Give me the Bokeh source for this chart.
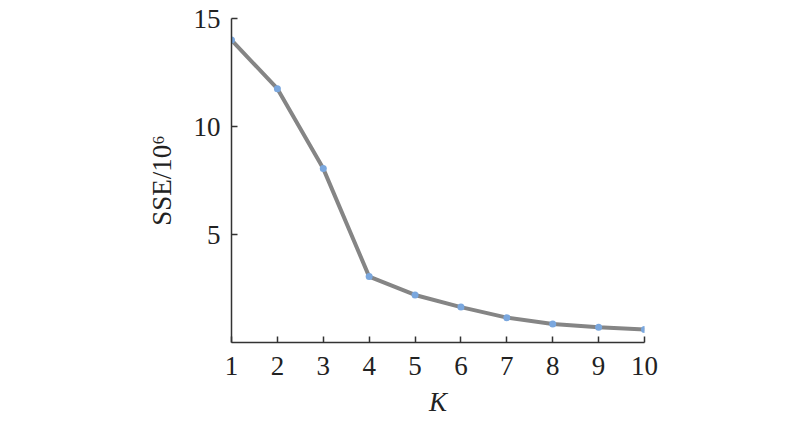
from bokeh.plotting import figure
from bokeh.models import FixedTicker, Range1d
from bokeh.embed import file_html
from bokeh.resources import INLINE

k_values = [1, 2, 3, 4, 5, 6, 7, 8, 9, 10]
sse_values = [14.0, 11.75, 8.05, 3.05, 2.2, 1.64, 1.15, 0.86, 0.71, 0.6]
y_ticks = [5, 10, 15]
x_ticks = [1, 2, 3, 4, 5, 6, 7, 8, 9, 10]

FONT = "Liberation Serif"

p = figure(width=800, height=423, output_backend="svg", toolbar_location=None,
           x_range=Range1d(1, 10), y_range=Range1d(0, 15),
           min_border_left=231, min_border_right=156, min_border_top=18, min_border_bottom=81)
p.outline_line_color = None
p.grid.visible = False
p.background_fill_color = "white"
p.border_fill_color = "white"

p.line(k_values, sse_values, line_color="#858585", line_width=4)
p.scatter(k_values, sse_values, size=7, fill_color="#7aa7de", line_color=None)

for ax in (p.xaxis[0], p.yaxis[0]):
    ax.axis_line_color = "#333333"
    ax.axis_line_width = 1.5
    ax.major_tick_line_color = "#333333"
    ax.major_tick_line_width = 1.5
    ax.major_tick_in = 6
    ax.major_tick_out = 0
    ax.minor_tick_line_color = None
    ax.major_label_text_font = FONT
    ax.major_label_text_font_size = "27px"
    ax.major_label_text_color = "#222222"
    ax.axis_label_text_font = FONT
    ax.axis_label_text_font_size = "27px"
    ax.axis_label_text_font_style = "normal"
    ax.axis_label_text_color = "#222222"

p.xaxis.ticker = FixedTicker(ticks=x_ticks)
p.yaxis.ticker = FixedTicker(ticks=y_ticks)
p.xaxis.axis_label = "K"
p.xaxis.axis_label_text_font_style = "italic"
p.yaxis.axis_label = "SSE/10⁶"
p.xaxis.major_label_standoff = 14
p.xaxis.axis_label_standoff = 9
p.yaxis.major_label_standoff = 11
p.yaxis.axis_label_standoff = 14

open("out.html", "w").write(file_html(p, INLINE))
